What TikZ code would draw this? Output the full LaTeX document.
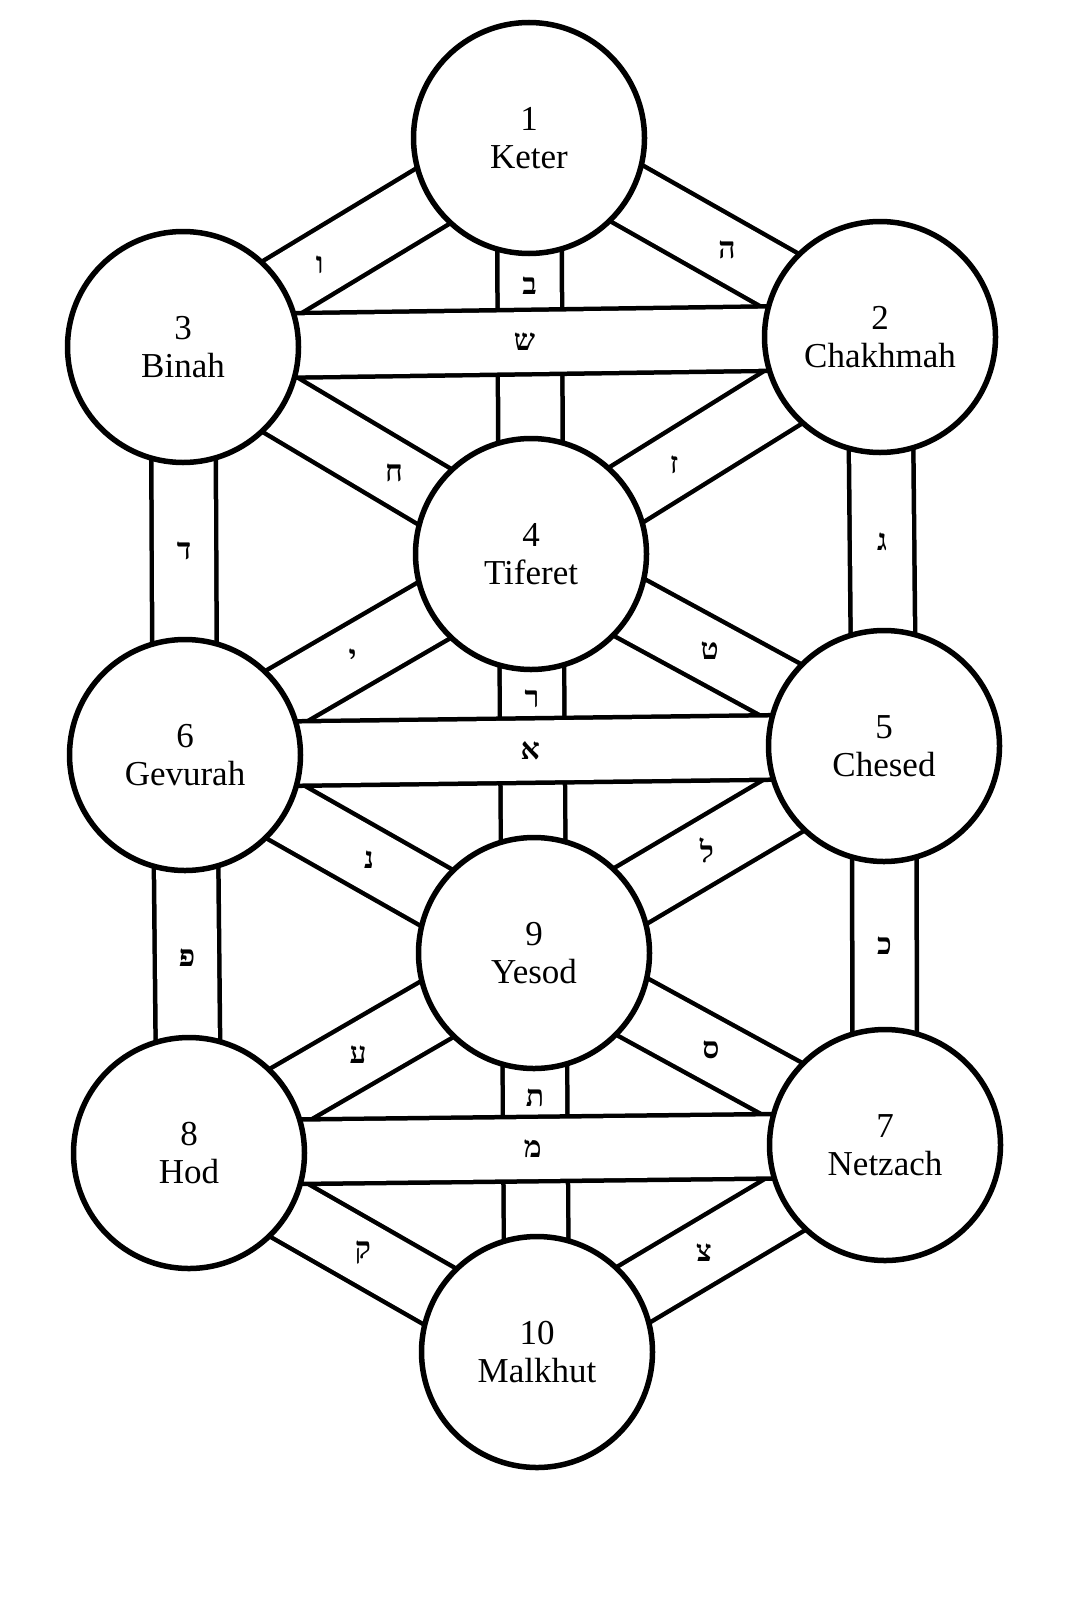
\documentclass[tikz,border=0pt]{standalone}
\usepackage{fontspec}
\setmainfont{Liberation Serif}
\newfontfamily\hebfont[Script=Hebrew]{Liberation Serif}
\TeXXeTstate=1
\pgfdeclarelayer{bg}
\pgfsetlayers{bg,main}
\begin{document}
\begin{tikzpicture}[x=1pt,y=-1pt,
  sefira/.style={circle, draw=black, line width=5.5pt, fill=white, minimum size=231pt,
    inner sep=0pt, align=center, font=\fontsize{35}{38}\selectfont},
  band/.style={line width=4.5pt, draw=black, double=white, double distance=60pt},
  letter/.style={font=\hebfont\bfseries\fontsize{30}{30}\selectfont, inner sep=0pt}
]
% sefirot
\node[sefira] (keter)   at (529,138)  {1\\Keter};
\node[sefira] (chokh)   at (880,337)  {2\\Chakhmah};
\node[sefira] (binah)   at (183,347)  {3\\Binah};
\node[sefira] (tif)     at (531,554)  {4\\Tiferet};
\node[sefira] (chesed)  at (884,746)  {5\\Chesed};
\node[sefira] (gev)     at (185,755)  {6\\Gevurah};
\node[sefira] (netz)    at (885,1145) {7\\Netzach};
\node[sefira] (hod)     at (189,1153) {8\\Hod};
\node[sefira] (yesod)   at (534,953)  {9\\Yesod};
\node[sefira] (malk)    at (537,1352) {10\\Malkhut};

\begin{pgfonlayer}{bg}
\useasboundingbox[fill=white] (0,0) rectangle (1080,1600);
% verticals
\draw[band] (keter.center) -- node[letter,pos=0.356]{\beginR ב\endR} (tif.center);
\draw[band] (tif.center) -- node[letter,pos=0.363]{\beginR ר\endR} (yesod.center);
\draw[band] (yesod.center) -- node[letter,pos=0.363]{\beginR ת\endR} (malk.center);
\draw[band] (binah.center) -- node[letter,pos=0.5]{\beginR ד\endR} (gev.center);
\draw[band] (gev.center) -- node[letter,pos=0.51]{\beginR פ\endR} (hod.center);
\draw[band] (chokh.center) -- node[letter,pos=0.5]{\beginR ג\endR} (chesed.center);
\draw[band] (chesed.center) -- node[letter,pos=0.5]{\beginR כ\endR} (netz.center);
% diagonals
\draw[band] (keter.center) -- node[letter,pos=0.605]{\beginR ו\endR} (binah.center);
\draw[band] (keter.center) -- node[letter,pos=0.564]{\beginR ה\endR} (chokh.center);
\draw[band] (binah.center) -- node[letter,pos=0.606]{\beginR ח\endR} (tif.center);
\draw[band] (chokh.center) -- node[letter,pos=0.59]{\beginR ז\endR} (tif.center);
\draw[band] (tif.center) -- node[letter,pos=0.516]{\beginR י\endR} (gev.center);
\draw[band] (tif.center) -- node[letter,pos=0.506]{\beginR ט\endR} (chesed.center);
\draw[band] (gev.center) -- node[letter,pos=0.527]{\beginR נ\endR} (yesod.center);
\draw[band] (chesed.center) -- node[letter,pos=0.506]{\beginR ל\endR} (yesod.center);
\draw[band] (yesod.center) -- node[letter,pos=0.51]{\beginR ע\endR} (hod.center);
\draw[band] (yesod.center) -- node[letter,pos=0.504]{\beginR ס\endR} (netz.center);
\draw[band] (hod.center) -- node[letter,pos=0.5]{\beginR ק\endR} (malk.center);
\draw[band] (netz.center) -- node[letter,pos=0.52]{\beginR צ\endR} (malk.center);
% horizontals (mothers)
\draw[band] (binah.center) -- node[letter,pos=0.49]{\beginR ש\endR} (chokh.center);
\draw[band] (gev.center) -- node[letter,pos=0.494]{\beginR א\endR} (chesed.center);
\draw[band] (hod.center) -- node[letter,pos=0.494]{\beginR מ\endR} (netz.center);
\end{pgfonlayer}
\end{tikzpicture}
\end{document}
